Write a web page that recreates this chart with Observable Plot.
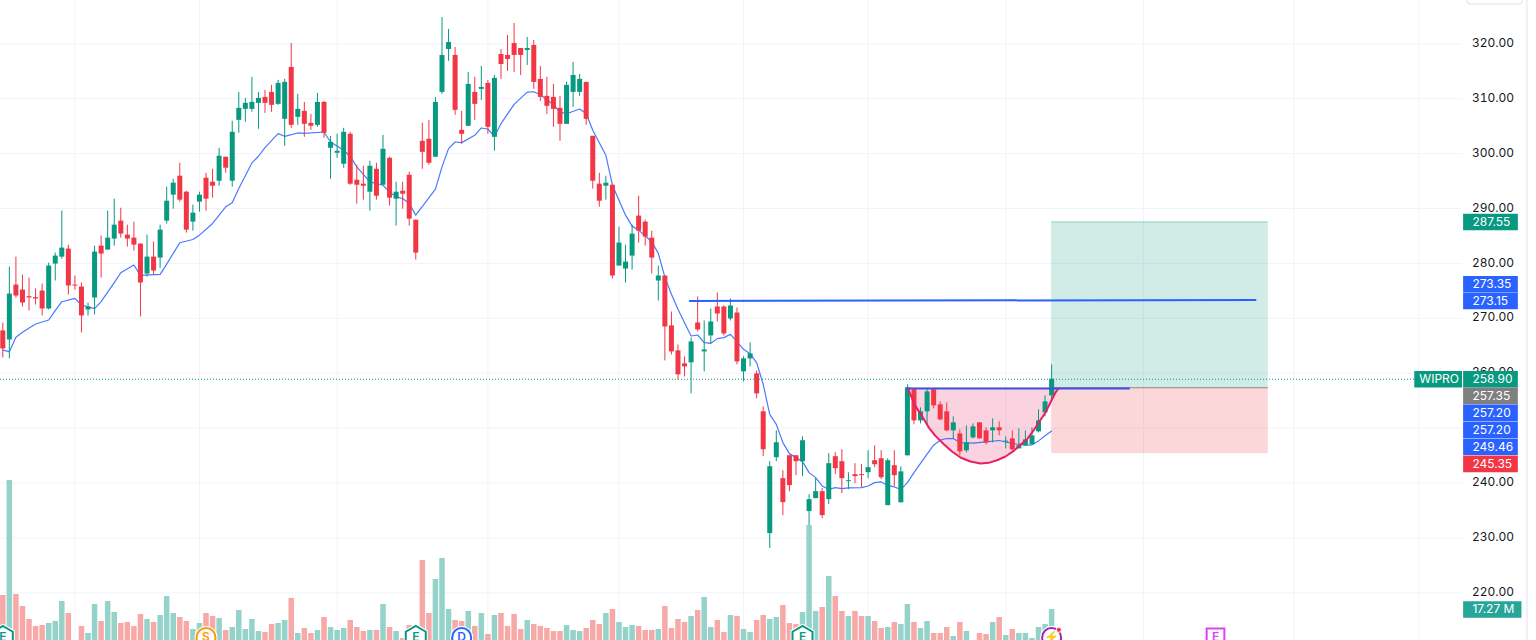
<!DOCTYPE html>
<html><head><meta charset="utf-8">
<style>html,body{margin:0;padding:0;background:#fff;overflow:hidden}svg{display:block}</style>
<script src="https://cdn.jsdelivr.net/npm/d3@7"></script>
<script src="https://cdn.jsdelivr.net/npm/@observablehq/plot@0.6"></script>
</head><body><div id="chart"></div>
<script>
const opens=[267.7,266.05,276.06,275.15,273.94,273.76,274.97,271.7,279.88,281.15,
282.61,276.06,275.7,271.52,273.7,283.15,282.43,284.43,287.7,285.15,
284.61,283.52,278.06,281.15,280.97,287.7,292.43,295.88,292.97,287.52,
291.15,295.52,294.79,294.97,299.34,294.97,306.06,308.06,308.06,309.15,
310.24,311.15,308.97,306.24,315.7,306.61,307.7,305.52,305.15,309.33,
300.97,300.06,298.06,303.52,295.15,294.43,292.97,297.15,294.24,299.15,
291.7,293.15,296.06,287.88,302.24,302.61,299.34,311.15,318.97,317.88,
304.24,304.97,311.15,311.7,312.79,302.97,318.06,317.88,320.06,319.15,
318.79,319.7,313.52,310.43,310.24,308.24,305.33,311.15,311.15,312.97,
303.15,294.43,294.06,294.24,279.52,278.97,281.33,288.61,287.52,284.61,
276.79,277.7,268.61,264.06,261.7,261.88,269.15,263.88,266.79,272.06,
272.06,269.88,270.97,260.24,262.61,259.88,252.97,230.79,244.61,240.79,
244.97,244.97,243.88,234.79,237.15,238.42,236.97,244.79,243.88,240.24,
241.52,241.52,241.88,244.06,244.42,235.88,243.15,236.39,244.95,256.97,
251.32,252.96,256.97,254.23,252.96,249.5,248.95,245.86,248.22,250.96,
249.5,249.5,250.05,247.44,248.04,246.22,246.77,246.95,249.32,252.78,255.87];
const closes=[264.42,274.42,274.06,272.79,273.7,273.52,271.7,279.52,281.33,282.79,
275.88,275.88,270.43,272.06,282.06,281.7,284.61,286.97,285.34,284.43,
283.33,276.43,281.15,278.61,286.06,291.33,294.61,291.52,286.06,289.15,
292.43,291.7,294.06,299.52,297.34,303.88,308.24,309.15,309.33,310.06,
309.15,308.79,312.79,312.97,305.15,308.06,305.33,304.97,309.33,303.7,
302.06,300.43,303.88,294.43,294.24,294.06,297.7,292.24,300.79,291.88,
292.97,292.61,288.06,281.88,300.24,298.24,309.33,317.88,320.24,307.88,
303.52,312.61,308.97,312.06,304.79,313.7,316.24,317.15,317.88,317.88,
319.15,312.97,310.24,308.61,308.06,305.33,312.43,314.24,313.52,306.24,
294.97,291.33,294.61,277.7,283.7,280.24,285.33,285.88,284.79,280.97,
277.7,268.42,263.88,259.7,261.15,265.7,267.88,264.24,269.33,270.79,
267.15,272.24,262.06,262.61,263.52,256.24,246.06,242.97,247.33,236.42,
239.52,243.88,247.7,236.97,238.42,234.06,243.52,242.61,240.79,240.42,
241.15,241.33,242.79,243.33,240.97,244.06,241.33,242.03,257.33,251.32,
252.96,256.6,254.05,251.5,249.5,250.96,245.67,247.31,250.23,248.04,
247.31,250.05,249.5,247.62,246.04,246.77,247.86,248.59,251.32,254.78,258.9];
const highs=[269.15,279.33,281.15,277.88,277.33,275.34,276.24,280.06,281.88,289.52,
283.33,277.7,276.43,272.79,283.15,284.97,289.52,291.7,290.06,286.97,
287.52,283.52,285.15,283.88,286.97,293.88,295.33,298.24,293.15,290.61,
292.97,296.43,297.15,300.97,299.34,305.88,311.15,310.06,313.88,311.15,
311.52,312.43,313.33,313.52,320.06,310.79,309.33,307.15,310.97,309.52,
303.15,303.52,304.61,303.88,297.88,297.7,298.61,298.24,303.33,299.34,
294.79,294.79,296.61,287.88,305.52,306.06,310.24,324.79,322.61,319.33,
307.7,314.79,313.88,315.88,313.33,314.24,318.97,321.52,323.7,319.15,
321.15,320.61,315.88,313.88,312.61,310.43,312.97,316.61,314.43,312.97,
303.15,296.43,295.88,294.24,286.61,283.33,286.97,292.24,287.88,285.88,
279.52,277.7,271.15,265.15,262.97,266.42,273.88,269.52,271.7,274.61,
272.24,273.52,271.88,262.97,265.52,260.42,253.88,243.88,249.52,242.24,
244.97,244.97,248.42,237.88,240.79,238.97,245.33,245.52,246.06,241.88,
243.52,243.33,245.88,246.79,245.88,244.42,245.88,242.94,257.88,257.15,
253.69,257.15,257.15,254.78,254.6,252.05,249.68,250.41,250.77,250.96,
250.05,251.68,251.14,248.41,249.5,249.86,249.5,250.05,253.32,255.87,261.52];
const lows=[262.78,262.6,273.7,272.06,271.33,272.42,270.43,271.52,276.79,280.79,
274.24,275.15,267.34,270.43,270.61,277.33,282.43,283.15,284.61,282.97,
282.24,270.24,277.52,277.88,279.09,287.15,289.88,291.15,285.52,285.88,
289.33,289.52,291.88,294.06,296.43,293.88,303.7,305.7,307.52,304.43,
307.33,307.52,308.79,301.33,304.61,305.15,302.97,304.24,304.79,302.79,
295.33,299.15,297.33,294.24,290.79,291.52,289.52,291.52,294.24,290.43,
286.79,289.88,286.79,280.61,297.15,297.88,299.34,310.79,316.79,306.97,
301.7,304.97,306.06,309.7,303.52,300.43,313.52,314.97,314.79,314.24,
316.06,311.7,309.52,307.15,304.79,302.24,305.33,308.43,310.43,305.15,
293.52,290.24,291.52,277.15,279.52,276.43,278.79,283.7,283.15,278.06,
273.15,262.24,263.33,258.79,259.33,256.24,267.52,260.24,265.33,269.33,
266.79,269.52,261.52,258.42,261.15,255.33,244.79,228.06,243.88,234.06,
238.42,241.33,241.15,232.24,237.15,233.52,236.06,241.52,238.06,238.79,
239.88,239.15,240.79,242.79,240.61,235.88,239.33,236.39,244.95,250.59,
250.77,250.59,253.5,251.32,249.32,248.04,244.95,245.49,248.04,248.04,
246.95,247.31,248.59,246.22,245.86,246.22,246.77,246.95,249.13,252.05,254.96];
const volumes=[23.98,79.14,24.46,18.71,12.47,9.11,9.59,10.55,11.51,21.1,
15.35,1.5,9.11,5.76,19.66,11.51,21.1,15.83,10.55,11.03,
9.11,14.87,12.47,11.03,14.39,23.5,15.35,13.43,11.51,7.67,
10.55,15.35,13.91,12.95,7.19,8.63,16.79,7.67,12.47,6.71,
6.24,10.07,10.55,11.99,22.54,5.76,8.15,5.76,7.19,13.43,
8.63,7.19,8.15,11.99,8.63,6.71,7.19,7.19,19.66,8.63,
6.71,3.36,9.59,7.19,40.77,15.35,31.65,41.73,17.27,11.99,
11.51,16.31,9.11,15.35,5.28,14.39,15.35,9.11,14.87,7.67,
11.99,10.07,9.11,8.15,6.71,6.71,9.59,7.19,6.71,8.15,
11.99,10.07,15.35,17.27,11.03,8.63,9.59,9.11,7.19,7.19,
7.67,18.71,8.15,12.47,11.03,13.91,16.79,23.02,8.63,11.99,
6.24,14.39,13.91,7.67,6.24,11.99,14.39,12.47,13.43,19.18,
10.55,10.07,15.83,57.55,16.31,18.23,33.09,23.5,16.31,13.91,
16.31,13.91,13.91,11.51,8.15,8.63,11.03,10.07,19.66,11.03,
8.15,11.51,5.76,5.76,8.63,4.32,11.03,6.71,1.5,5.76,
5.28,11.03,13.43,4.8,7.67,5.76,5.76,3.36,8.63,10.07,17.27];
const maIndex=[0,1,2,3,5,7,8,9,11,12,14,15,17,18,20,21,24,25,26,27,29,30,32,34,35,36,38,39,40,42,43,45,46,49,50,52,53,
54,56,58,59,60,61,62,63,66,67,68,69,70,72,73,74,75,76,78,80,81,82,84,85,86,88,89,90,92,93,94,95,96,97,99,100,
101,102,103,104,105,106,107,108,109,110,111,112,113,114,115,116,117,118,119,120,121,122,123,124,125,126,127,128,129,131,132,133,134,135,136,137,
138,139,141,142,143,144,145,146,148,150,152,154,156,157,158,159,160];
const maValue=[264.2,263.93,266.54,267.45,268.96,269.69,271.39,273.02,273.64,272.43,271.76,273.03,276.49,278.3,279.7,277.82,278,279.88,281.82,283.76,284.36,285.15,287.27,290.3,291.03,293.64,298.3,299.52,301.09,303.64,303.15,303.76,303.7,303.94,302.12,300.6,299.52,
297.58,294.85,294.24,293.03,292.12,291.82,290.91,288.79,293.52,297.58,300.91,302.12,302,303.33,304.67,304.48,303.15,305.45,308.97,311.21,311.27,310.73,308.91,307.58,307.27,308.12,307.27,304.24,299.7,294.24,291.52,288.79,286.79,286.06,283.94,281.82,
277.5,274.37,271.64,269.21,266.78,266.96,265.57,265.45,266.3,266.48,267.09,265.75,264.35,263.56,261.92,257.98,252.51,250.69,247.35,245.35,244.62,243.89,241.89,240.98,239.46,238.85,239.16,238.97,239.1,239.16,239.46,240.07,240.19,239.58,239.28,238.85,
240.08,241.9,245.25,246.89,247.8,248.1,248.1,247.37,247.25,247.49,247.74,247.19,246.89,246.95,247.67,248.59,249.46];
const cupIndex=[138.05,138.7,139.2,140.2,141.26,142.27,143.55,144.8,146.09,147.6,149.14,150.4,151.68,152.96,154.23,155.24,156.26,157.28,158.04,159.06,159.82,160.58,161];
const cupPrice=[257.27,255.45,254.05,252.23,250.1,248.59,247.07,245.73,244.64,243.91,243.55,243.67,244.15,244.82,245.85,246.95,247.98,249.62,251.01,252.84,254.66,256.48,257.15];
const priceTicks=[220,230,240,250,260,270,280,290,300,310,320];
const timeGrid=[11,30,51,74,94,113,132,153,174,197,216];
const lastPrice=258.9, target=287.55, entry=257.35, stop=245.35, lineLeft=273.15, lineRight=273.35, cupTop=257.2;
const lastVolume=17.27;
const labelValues=[287.55,273.35,273.15,258.90,257.35,257.20,257.20,249.46,245.35];
const labelKinds=["green","blue","blue","green","gray","blue","blue","blue","red"];
const labelNudges=[0,-15.7,0,0,8.1,24.2,41.2,15.7,10.2];
const markerIndex=[0,31,63,70,122,160,185];
const markerText=["E","S","E","D","E","⚡","E"];
const markerKind=["hex","circleS","hex","circleD","hex","flash","square"];

const GREEN="#089981",RED="#f23645",BLUE="#2962ff",GRID="#f0f3fa",FONT="Inter, 'Liberation Sans', sans-serif";
const kindColor={green:GREEN,blue:BLUE,gray:"#808080",red:RED};
const yMin=211.31,yMax=327.89,pxPerPrice=5.49;
const volZero=210.4,volToPrice=0.3798;
const volY=v=>volZero+v*volToPrice;

const bars=opens.map((o,i)=>({i,open:o,close:closes[i],high:highs[i],low:lows[i],vol:volumes[i],up:closes[i]>=o}));
const ma=maIndex.map((i,k)=>({i,v:maValue[k]}));
const cup=cupIndex.map((i,k)=>({i,p:cupPrice[k]}));
const labels=labelValues.map((v,k)=>({y:v-labelNudges[k]/pxPerPrice,text:v.toFixed(2),fill:kindColor[labelKinds[k]]}));
const styleOf={hex:{symbol:"hexagon",c:GREEN,r:10},circleS:{symbol:"circle",c:"#ff9800",r:9.5},circleD:{symbol:"circle",c:BLUE,r:9.5},flash:{symbol:"circle",c:"#9c27b0",r:9.5},square:{symbol:"square",c:"#e040fb",r:10}};
const markers=markerIndex.map((i,k)=>({i,t:markerText[k],...styleOf[markerKind[k]]}));
const markerY=211.86;
const markerR={value:"r",scale:null};

const chart=Plot.plot({
  width:1536,height:640,marginTop:0,marginBottom:0,marginLeft:0,marginRight:74,
  style:{background:"#fff",fontFamily:FONT},
  x:{domain:[-0.351,222.68],axis:null},
  y:{domain:[yMin,yMax],axis:null},
  marks:[
    Plot.gridY(priceTicks,{stroke:GRID,strokeOpacity:1,strokeWidth:1}),
    Plot.ruleX(timeGrid,{stroke:GRID,strokeWidth:1}),
    Plot.ruleX([232.5],{stroke:"#eef0f4",strokeWidth:2}),
    Plot.rect([0],{x1:160,x2:193.05,y1:entry,y2:target,fill:GREEN,fillOpacity:0.19}),
    Plot.rect([0],{x1:160,x2:193.05,y1:stop,y2:entry,fill:RED,fillOpacity:0.2}),
    Plot.ruleY([target],{x1:160,x2:193.05,stroke:GREEN,strokeOpacity:0.3}),
    Plot.ruleY([entry],{x1:160,x2:193.05,stroke:"#808080",strokeOpacity:0.9}),
    Plot.ruleX(bars,{x:"i",y1:yMin-2,y2:d=>volY(d.vol),stroke:d=>d.up?"#94d2ca":"#f7a9a8",strokeWidth:5.5}),
    Plot.areaY(cup,{x:"i",y1:"p",y2:entry,fill:"#e91e63",fillOpacity:0.2,curve:"linear"}),
    Plot.line(ma,{x:"i",y:"v",stroke:BLUE,strokeWidth:1.2,strokeOpacity:0.85}),
    Plot.ruleX(bars,{x:"i",y1:"low",y2:"high",stroke:d=>d.up?GREEN:RED,strokeWidth:1}),
    Plot.ruleX(bars,{x:"i",y1:"open",y2:"close",stroke:d=>d.up?GREEN:RED,strokeWidth:5}),
    Plot.line(cup,{x:"i",y:"p",stroke:"#e91e63",strokeWidth:2}),
    Plot.line([{i:104.8,p:lineLeft},{i:191.1,p:lineRight}],{x:"i",y:"p",stroke:BLUE,strokeWidth:2}),
    Plot.ruleY([cupTop],{x1:138,x2:172,stroke:"#3f51e0",strokeWidth:2}),
    Plot.ruleY([lastPrice],{x1:-0.351,x2:215.4,stroke:GREEN,strokeWidth:1,strokeDasharray:"1,2"}),
    Plot.axisY(priceTicks,{anchor:"right",tickSize:0,tickPadding:9.5,tickFormat:d3.format(".2f"),label:null,fontSize:12,fontFamily:FONT,fill:"#131722",dy:-0.7}),
    Plot.rect([0],{x1:223.45,x2:231.87,y1:327.16,y2:329,fill:"#fff",stroke:"#e0e3eb",rx:3}),
    Plot.ruleY(labels,{y:"y",x1:222.85,x2:231.2,stroke:"fill",strokeWidth:16.6}),
    Plot.ruleY([lastPrice],{x1:215.4,x2:222.68,stroke:GREEN,strokeWidth:16.6}),
    Plot.text(labels,{x:224.2,y:"y",text:"text",fill:"#fff",textAnchor:"start",fontSize:12,fontFamily:FONT}),
    Plot.text(["WIPRO"],{x:216.1,y:lastPrice,text:d=>d,fill:"#fff",textAnchor:"start",fontSize:12,fontFamily:FONT}),
    Plot.ruleY([volY(lastVolume)],{x1:222.85,x2:231.75,stroke:"#26a69a",strokeWidth:16.6}),
    Plot.text([lastVolume],{x:224.2,y:volY(lastVolume),text:d=>d.toFixed(2)+" M",fill:"#fff",textAnchor:"start",fontSize:12,fontFamily:FONT}),
    Plot.dot(markers,{x:"i",y:markerY,r:markerR,symbol:"symbol",fill:"#fff",stroke:"#fff",strokeWidth:4}),
    Plot.dot(markers,{x:"i",y:markerY,r:markerR,symbol:"symbol",fill:"#fff",stroke:"c",strokeWidth:2}),
    Plot.text(markers,{x:"i",y:markerY,text:"t",fill:"c",fontSize:12,fontWeight:600,fontFamily:FONT}),
    Plot.dot([160],{x:d=>d+1.1,y:213.26,r:2.6,fill:RED,stroke:"#fff",strokeWidth:1})
  ]
});
document.getElementById("chart").appendChild(chart);
</script></body></html>
